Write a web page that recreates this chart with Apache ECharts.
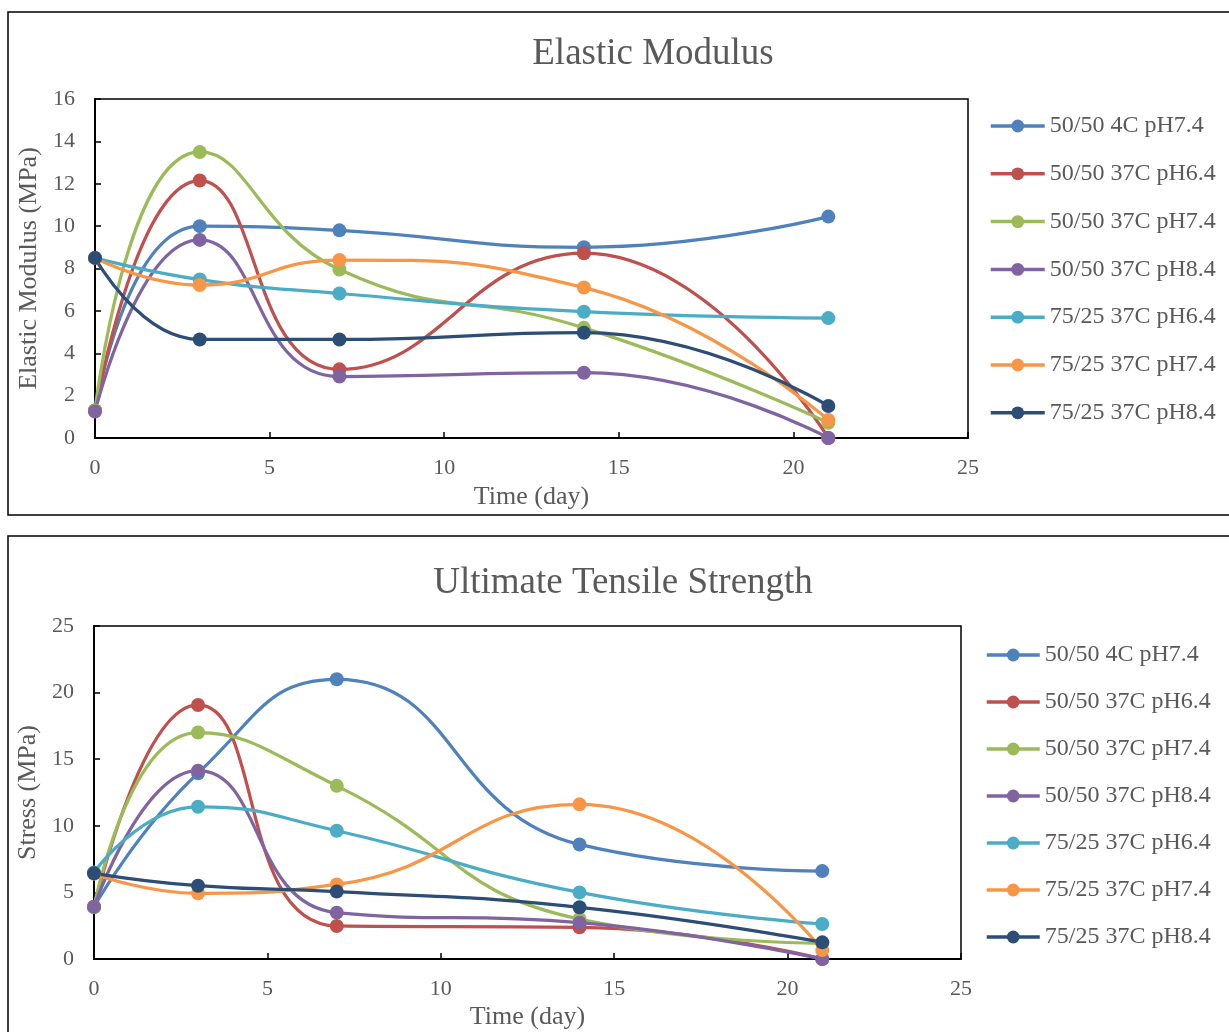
<!DOCTYPE html>
<html><head><meta charset="utf-8">
<script src="https://cdn.jsdelivr.net/npm/echarts@6/dist/echarts.min.js"></script>
<style>html,body{margin:0;padding:0;background:#fff}#c{width:1229px;height:1032px}</style>
</head><body><div id="c"></div>
<script>
const days = [0, 3, 7, 14, 21];
const seriesNames = ['50/50 4C pH7.4','50/50 37C pH6.4','50/50 37C pH7.4','50/50 37C pH8.4','75/25 37C pH6.4','75/25 37C pH7.4','75/25 37C pH8.4'];
const colors = ['#4F81BD','#C0504D','#9BBB59','#8064A2','#4BACC6','#F79646','#2C4D75'];

// Elastic Modulus (MPa)
const modBlue   = [1.3, 10.0, 9.8, 9.0, 10.45];
const modRed    = [1.3, 12.15, 3.24, 8.72, 0];
const modGreen  = [1.3, 13.5, 7.95, 5.2, 0.72];
const modPurple = [1.25, 9.35, 2.9, 3.08, 0];
const modCyan   = [8.5, 7.48, 6.82, 5.96, 5.66];
const modOrange = [8.5, 7.22, 8.4, 7.1, 0.85];
const modNavy   = [8.5, 4.65, 4.65, 4.97, 1.51];

// Ultimate Tensile Strength, Stress (MPa)
const utsBlue   = [3.9, 13.95, 21.0, 8.6, 6.6];
const utsRed    = [3.9, 19.07, 2.48, 2.38, 0];
const utsGreen  = [3.9, 17.0, 13.0, 3.0, 1.18];
const utsPurple = [3.93, 14.14, 3.48, 2.73, 0];
const utsCyan   = [6.5, 11.43, 9.63, 5.0, 2.63];
const utsOrange = [6.4, 4.93, 5.6, 11.61, 0.68];
const utsNavy   = [6.43, 5.5, 5.06, 3.88, 1.25];

const modSets = [modBlue, modRed, modGreen, modPurple, modCyan, modOrange, modNavy];
const utsSets = [utsBlue, utsRed, utsGreen, utsPurple, utsCyan, utsOrange, utsNavy];

const FONT = '"Liberation Serif", "Times New Roman", serif';
const GREY = '#595959';

function mkSeries(sets, idx) {
  return sets.map((vals, i) => ({
    name: seriesNames[i],
    type: 'line',
    xAxisIndex: idx, yAxisIndex: idx,
    smooth: 0.5,
    symbol: 'circle', symbolSize: 14,
    color: colors[i],
    lineStyle: { width: 3.25, color: colors[i] },
    itemStyle: { color: colors[i] },
    data: days.map((d, k) => [d, vals[k]]),
    animation: false
  }));
}

function xAx(idx, gap) {
  return {
    type: 'value', gridIndex: idx, min: 0, max: 25, interval: 5,
    name: 'Time (day)', nameLocation: 'middle', nameGap: gap,
    nameTextStyle: { fontFamily: FONT, fontSize: 26, color: GREY },
    axisLine: { show: true, lineStyle: { color: '#000', width: 2 } },
    axisTick: { show: true, inside: true, length: 6, lineStyle: { color: '#000', width: 1.5 } },
    axisLabel: { fontFamily: FONT, fontSize: 22, color: GREY, margin: 19 },
    splitLine: { show: false }
  };
}
function yAx(idx, name, max, interval, gap) {
  return {
    type: 'value', gridIndex: idx, min: 0, max: max, interval: interval,
    name: name, nameLocation: 'middle', nameGap: gap,
    nameTextStyle: { fontFamily: FONT, fontSize: 26, color: GREY },
    axisLine: { show: true, lineStyle: { color: '#000', width: 2 } },
    axisTick: { show: true, inside: true, length: 6, lineStyle: { color: '#000', width: 1.5 } },
    axisLabel: { fontFamily: FONT, fontSize: 22, color: GREY, margin: 20 },
    splitLine: { show: false }
  };
}

function legend(left, top, gap, w) {
  return {
    orient: 'vertical', left: left, top: top, padding: 0,
    itemWidth: w, itemHeight: 16, itemGap: gap,
    data: seriesNames.slice(),
    lineStyle: { width: 3.5 },
    textStyle: { fontFamily: FONT, fontSize: 24, color: GREY, lineHeight: 24 },
    selectedMode: false
  };
}

const chart = echarts.init(document.getElementById('c'), null, { renderer: 'canvas' });
const option = {
  backgroundColor: '#fff',
  animation: false,
  title: [
    { text: 'Elastic Modulus', left: 653, top: 36, textAlign: 'center', padding: 0,
      textStyle: { fontFamily: FONT, fontSize: 37, fontWeight: 'normal', color: GREY } },
    { text: 'Ultimate Tensile Strength', left: 623, top: 565, textAlign: 'center', padding: 0,
      textStyle: { fontFamily: FONT, fontSize: 37, fontWeight: 'normal', color: GREY } }
  ],
  grid: [
    { left: 95, top: 99, width: 873, height: 339, show: true, borderColor: '#000', borderWidth: 1.5, backgroundColor: 'transparent' },
    { left: 94, top: 626, width: 867, height: 333, show: true, borderColor: '#000', borderWidth: 1.5, backgroundColor: 'transparent' }
  ],
  xAxis: [xAx(0, 46), xAx(1, 45)],
  yAxis: [yAx(0, 'Elastic Modulus (MPa)', 16, 2, 50), yAx(1, 'Stress (MPa)', 25, 5, 50)],
  legend: [legend(989, 114, 23.8, 54), legend(985, 643, 23, 53)],
  graphic: [
    { type: 'rect', shape: { x: 8, y: 12, width: 1240, height: 503 }, style: { fill: 'none', stroke: '#000', lineWidth: 1.5 }, silent: true, z: -1 },
    { type: 'rect', shape: { x: 8, y: 536, width: 1240, height: 520 }, style: { fill: 'none', stroke: '#000', lineWidth: 1.5 }, silent: true, z: -1 }
  ],
  series: mkSeries(modSets, 0).concat(mkSeries(utsSets, 1))
};
chart.setOption(option);
</script>
</body></html>
